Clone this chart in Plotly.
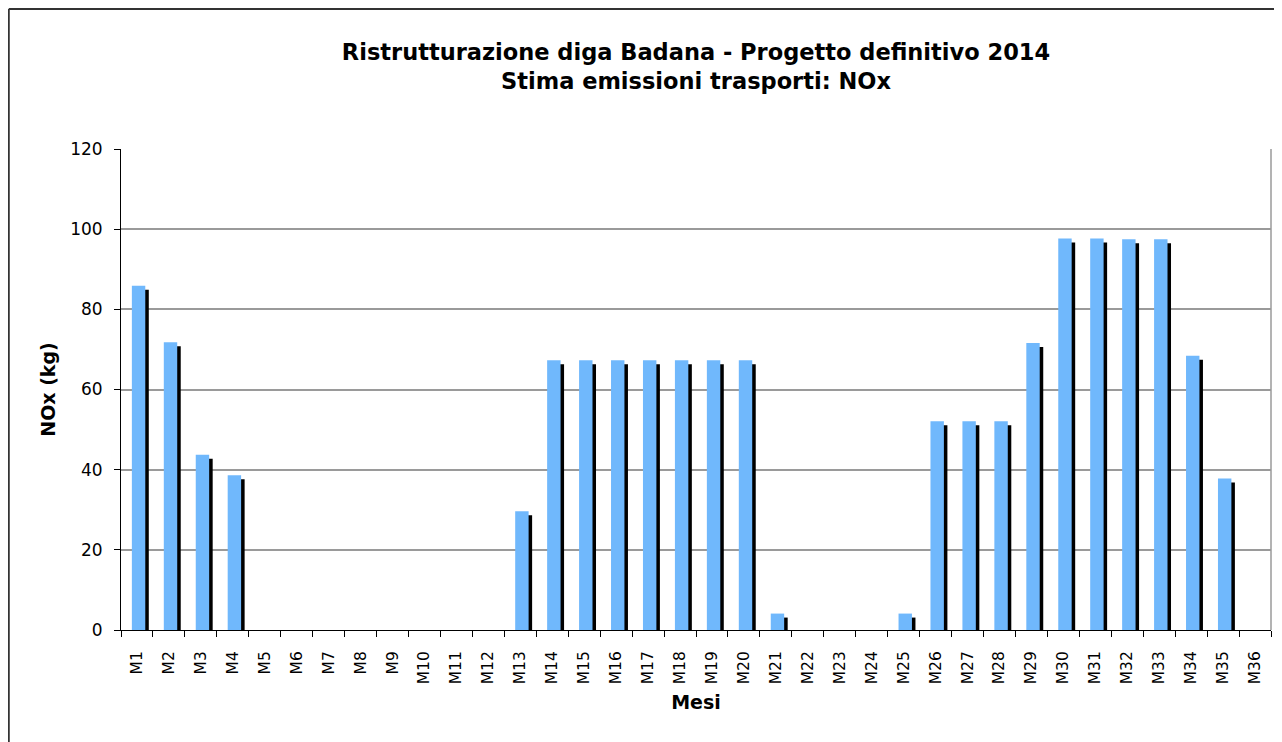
import plotly.graph_objects as go

months = [f"M{i}" for i in range(1, 37)]
nox_kg = [
    85.9, 71.8, 43.7, 38.6, 0, 0, 0, 0, 0, 0, 0, 0,
    29.6, 67.3, 67.3, 67.3, 67.3, 67.3, 67.3, 67.3, 4.1, 0, 0, 0,
    4.1, 52.1, 52.1, 52.1, 71.6, 97.7, 97.7, 97.5, 97.5, 68.4, 37.8, 0,
]

FONT = "DejaVu Sans"
BAR_BLUE = "#70B8FC"

fig = go.Figure()
# drop shadow behind each bar
fig.add_trace(go.Bar(
    x=months, y=nox_kg, base=-1.0, width=0.42, offset=-0.05,
    marker=dict(color="black", line_width=0), hoverinfo="skip",
))
fig.add_trace(go.Bar(
    x=months, y=nox_kg, width=0.42, offset=-0.16,
    marker=dict(color=BAR_BLUE, line_width=0), name="NOx",
))

# outer frame (page has an 8px body margin) and right border of plot area
frame = dict(type="line", xref="paper", yref="paper", line=dict(color="#333333", width=2))
fig.add_shape(**frame, x0=-0.0976, x1=-0.0976, y0=1.291, y1=-0.25)
fig.add_shape(**frame, x0=-0.0976, x1=1.02, y0=1.291, y1=1.291)
fig.add_shape(type="line", xref="paper", yref="paper", x0=1, x1=1, y0=0, y1=1,
              line=dict(color="#9a9a9a", width=1.5))

fig.update_layout(
    width=1274, height=734,
    margin=dict(l=113, r=11, t=141, b=112),
    paper_bgcolor="white", plot_bgcolor="white",
    barmode="overlay", showlegend=False,
    font=dict(family=FONT, size=15, color="black"),
    title=dict(
        text="<b>Ristrutturazione diga Badana - Progetto definitivo 2014<br>Stima emissioni trasporti: NOx</b>",
        x=0.5, xref="paper", y=0.929, yanchor="middle",
        font=dict(family=FONT, size=22.5),
    ),
    xaxis=dict(
        type="category", tickson="boundaries", ticks="outside", ticklen=6,
        tickcolor="black", tickangle=-90, showline=True, linecolor="black",
        linewidth=1, showgrid=False, ticklabelstandoff=14,
        title=dict(text="<b>Mesi</b>", standoff=12, font=dict(size=19)),
        tickfont=dict(size=15.5),
    ),
    yaxis=dict(
        range=[0, 120], dtick=20, ticks="outside", ticklen=6, tickcolor="black",
        showline=True, linecolor="black", linewidth=1,
        showgrid=True, gridcolor="#9a9a9a", gridwidth=1.5, zeroline=False,
        ticklabelstandoff=8,
        title=dict(text="<b>NOx (kg)</b>", standoff=9, font=dict(size=19)),
        tickfont=dict(size=17),
    ),
)

fig.write_html("out.html")
